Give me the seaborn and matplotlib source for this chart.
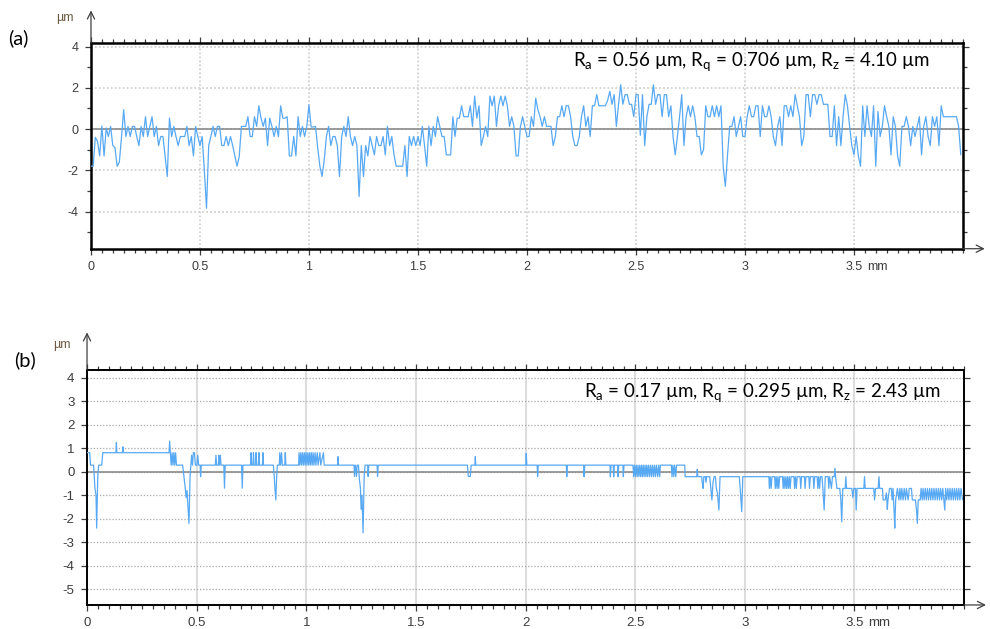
import matplotlib

matplotlib.use("Agg")
import matplotlib.pyplot as plt
import numpy as np
import pandas as pd
import seaborn as sns
from matplotlib.ticker import MultipleLocator

# ---- panel (a): height profile sampled every 0.01 mm, in um ----
profile_a_step = 0.01
profile_a = [
    -1.8, -1.8, -0.4, -0.6, -1.3, 0.15, -1.3, 0.05, -0.36, 0.13,
    -0.8, -0.9, -1.8, -1.6, -0.4, 0.94, -0.36, 0.13, -0.36, 0.13,
    0.13, -0.36, -0.8, 0.13, -0.36, 0.6, -0.36, 0.13, 0.6, -0.36,
    0.13, -0.8, -0.36, -0.36, -1.3, -2.3, 0.53, -0.36, 0.13, -0.36,
    -0.8, -0.36, -0.36, -0.36, 0.13, -0.8, -0.36, -1.3, 0.13, -0.36,
    -0.8, -0.36, -2.0, -3.84, -0.8, -0.36, 0.13, -0.36, 0.13, 0.13,
    -0.8, -0.8, -0.36, -0.8, -0.36, -0.8, -1.3, -1.8, -1.33, 0.13,
    0.13, 0.13, 0.6, -0.36, -0.36, 0.6, 0.13, 1.13, 0.53, 0.13,
    0.53, -0.8, 0.53, 0.13, -0.36, 0.13, -0.36, 1.13, 0.53, 0.53,
    0.6, -1.3, -1.3, -0.36, -1.3, 0.6, -0.36, 0.13, -0.36, 0.13,
    1.18, 0.1, 0.1, 0.13, -0.9, -1.8, -2.3, -1.5, -0.36, 0.13,
    -0.8, -0.36, -0.36, -0.8, -2.3, -0.36, 0.13, -0.36, 0.6, -0.36,
    -0.8, -0.36, -0.8, -3.27, -0.8, -2.3, -0.8, -1.3, -0.36, -0.8,
    -1.25, -0.36, -0.8, -0.8, -0.36, -1.25, 0.13, -0.8, -0.36, -1.25,
    -1.8, -1.8, -1.8, -1.8, -0.8, -2.3, -0.36, -0.8, -0.36, -0.8,
    -0.36, -0.8, 0.13, -0.8, -1.8, 0.13, -0.8, 0.13, -0.36, 0.6,
    0.13, -0.36, -0.36, -1.25, -1.25, -1.25, 0.6, -0.36, 0.53, 0.53,
    1.13, 0.6, 0.6, 0.6, 1.13, 0.13, 1.6, 0.53, 1.13, -0.8,
    -0.36, 0.13, -0.36, 1.6, 1.13, 1.6, 0.13, 1.13, 1.6, 1.13,
    1.6, 1.13, 0.13, 0.6, 0.13, -1.3, -1.3, 0.13, 0.6, 0.13,
    -0.36, -0.36, 0.6, 0.13, 1.5, 0.94, 0.6, 0.13, 0.6, 0.13,
    0.13, 0.13, -0.8, -0.36, 0.6, 0.6, 1.13, 0.6, 1.13, 1.13,
    0.6, -0.36, -0.8, -0.8, -0.36, 0.6, 1.13, 0.13, 0.6, -0.36,
    1.13, 1.13, 1.67, 1.13, 1.13, 1.13, 1.13, 1.4, 1.83, 1.2,
    1.67, 0.13, 1.2, 2.15, 1.2, 1.67, 1.67, 1.2, 1.2, 0.6,
    1.67, 1.67, -0.3, 1.67, -0.8, 0.6, 1.2, 1.2, 2.15, 1.2,
    1.67, 1.67, 0.6, 1.67, 1.67, 0.6, 1.13, -0.36, -1.25, -0.36,
    0.6, 1.67, -0.8, 0.6, 1.13, 0.6, 1.13, 0.6, -0.36, -0.36,
    -1.25, -1.0, 1.13, 0.6, 0.6, 1.13, 0.6, 1.13, 0.6, 1.13,
    -1.8, -2.78, -1.25, 0.13, 0.13, 0.6, -0.36, 0.13, 0.6, -0.36,
    -0.36, 0.6, 1.13, 0.6, 0.6, 1.13, 1.13, -0.36, 1.13, 0.6,
    0.6, 1.13, 0.6, -0.36, -0.8, 0.13, 0.6, -0.8, 1.13, 1.13,
    0.6, 1.13, 0.6, 1.67, 1.13, 0.6, -0.8, -0.36, 1.67, 1.67,
    0.6, 1.67, 1.67, 1.2, 1.67, 1.67, 1.2, 1.2, 1.2, -0.36,
    -0.36, 1.13, -0.8, 0.6, -0.8, 0.6, 1.67, 1.13, 0.13, -0.8,
    -1.25, -0.36, -1.3, -1.8, 1.13, -0.36, 1.13, 0.13, -0.36, 1.13,
    -1.8, 0.85, -0.36, 0.13, 1.13, 0.6, 0.13, -1.25, 0.6, 0.13,
    -1.3, -1.8, 0.13, 0.13, 0.6, 0.13, -0.8, 0.13, -0.36, 0.13,
    0.6, -1.25, 0.13, 0.6, -0.36, -0.8, 0.6, 0.13, 0.6, -0.8,
    1.13, 0.6, 0.6, 0.6, 0.6, 0.6, 0.6, 0.6, 0.13, -1.25,
]

# ---- panel (b): profile vertices (mm, um) ----
profile_b_x = [
    0.000, 0.012, 0.016, 0.030, 0.036, 0.041, 0.044, 0.049, 0.053, 0.067,
    0.072, 0.132, 0.134, 0.136, 0.162, 0.164, 0.166, 0.374, 0.377, 0.380,
    0.384, 0.388, 0.392, 0.396, 0.400, 0.404, 0.408, 0.436, 0.442, 0.448,
    0.452, 0.456, 0.465, 0.470, 0.474, 0.477, 0.481, 0.485, 0.490, 0.494,
    0.501, 0.505, 0.509, 0.516, 0.518, 0.521, 0.585, 0.588, 0.591, 0.599,
    0.601, 0.604, 0.608, 0.611, 0.624, 0.627, 0.630, 0.705, 0.708, 0.711,
    0.746, 0.748, 0.751, 0.757, 0.759, 0.762, 0.769, 0.771, 0.774, 0.782,
    0.784, 0.787, 0.800, 0.802, 0.805, 0.850, 0.854, 0.857, 0.861, 0.865,
    0.868, 0.877, 0.879, 0.883, 0.887, 0.891, 0.902, 0.904, 0.907, 0.965,
    0.967, 0.971, 0.975, 0.979, 0.983, 0.987, 0.991, 0.995, 0.999, 1.003,
    1.007, 1.011, 1.015, 1.019, 1.023, 1.027, 1.031, 1.035, 1.040, 1.044,
    1.050, 1.054, 1.062, 1.066, 1.078, 1.082, 1.143, 1.145, 1.147, 1.218,
    1.220, 1.224, 1.229, 1.232, 1.238, 1.242, 1.247, 1.250, 1.254, 1.259,
    1.264, 1.268, 1.280, 1.282, 1.285, 1.323, 1.325, 1.328, 1.735, 1.739,
    1.748, 1.752, 1.769, 1.771, 1.773, 2.001, 2.003, 2.006, 2.053, 2.055,
    2.058, 2.186, 2.188, 2.191, 2.265, 2.267, 2.270, 2.385, 2.387, 2.390,
    2.400, 2.402, 2.405, 2.420, 2.422, 2.425, 2.444, 2.446, 2.449, 2.490,
    2.493, 2.497, 2.501, 2.505, 2.509, 2.513, 2.517, 2.521, 2.525, 2.529,
    2.533, 2.537, 2.541, 2.545, 2.549, 2.553, 2.557, 2.561, 2.566, 2.570,
    2.575, 2.579, 2.584, 2.588, 2.593, 2.597, 2.603, 2.607, 2.612, 2.615,
    2.665, 2.668, 2.672, 2.676, 2.680, 2.685, 2.689, 2.726, 2.728, 2.781,
    2.783, 2.786, 2.803, 2.806, 2.810, 2.813, 2.820, 2.823, 2.826, 2.840,
    2.845, 2.850, 2.855, 2.860, 2.866, 2.870, 2.875, 2.882, 2.887, 2.975,
    2.979, 2.986, 2.991, 3.110, 3.112, 3.116, 3.120, 3.124, 3.136, 3.139,
    3.143, 3.147, 3.151, 3.155, 3.159, 3.172, 3.175, 3.179, 3.183, 3.187,
    3.191, 3.195, 3.199, 3.203, 3.207, 3.211, 3.224, 3.227, 3.231, 3.235,
    3.239, 3.252, 3.255, 3.259, 3.272, 3.275, 3.279, 3.292, 3.295, 3.299,
    3.312, 3.315, 3.319, 3.330, 3.333, 3.337, 3.341, 3.345, 3.352, 3.356,
    3.362, 3.367, 3.380, 3.383, 3.387, 3.395, 3.400, 3.408, 3.411, 3.414,
    3.420, 3.433, 3.438, 3.442, 3.447, 3.458, 3.461, 3.464, 3.488, 3.493,
    3.497, 3.505, 3.508, 3.512, 3.543, 3.546, 3.549, 3.588, 3.592, 3.596,
    3.608, 3.612, 3.615, 3.628, 3.631, 3.640, 3.646, 3.650, 3.653, 3.660,
    3.668, 3.672, 3.676, 3.681, 3.684, 3.688, 3.696, 3.703, 3.707, 3.712,
    3.716, 3.722, 3.727, 3.733, 3.737, 3.745, 3.750, 3.760, 3.764, 3.772,
    3.778, 3.783, 3.787, 3.791, 3.800, 3.804, 3.809, 3.813, 3.818, 3.823,
    3.828, 3.833, 3.838, 3.843, 3.848, 3.853, 3.858, 3.863, 3.868, 3.873,
    3.878, 3.883, 3.888, 3.893, 3.898, 3.903, 3.908, 3.912, 3.916, 3.921,
    3.926, 3.931, 3.936, 3.941, 3.946, 3.951, 3.956, 3.961, 3.966, 3.971,
    3.976, 3.981, 3.986, 3.993,
]
profile_b_z = [
    0.81, 0.81, 0.28, 0.28, -0.70, -1.00, -2.40, -0.20, 0.28, 0.28,
    0.81, 0.81, 1.25, 0.81, 0.81, 1.06, 0.81, 0.81, 1.30, 0.81,
    0.28, 0.81, 0.28, 0.81, 0.28, 0.81, 0.28, 0.28, -0.20, -0.70,
    -1.10, -0.80, -2.20, -0.20, 0.28, 0.70, 0.28, 0.81, 0.81, 0.28,
    0.28, 0.70, 0.28, 0.28, -0.21, 0.28, 0.28, 0.70, 0.28, 0.28,
    0.70, 0.28, 0.70, 0.28, 0.28, -0.70, 0.28, 0.28, -0.70, 0.28,
    0.28, 0.81, 0.28, 0.28, 0.81, 0.28, 0.28, 0.81, 0.28, 0.28,
    0.81, 0.28, 0.28, 0.81, 0.28, 0.28, -0.20, -0.70, -1.20, -0.20,
    0.28, 0.28, 0.81, 0.28, 0.81, 0.28, 0.28, 0.81, 0.28, 0.28,
    0.81, 0.28, 0.81, 0.28, 0.81, 0.28, 0.81, 0.28, 0.81, 0.28,
    0.81, 0.28, 0.81, 0.28, 0.81, 0.28, 0.81, 0.28, 0.81, 0.28,
    0.81, 0.28, 0.81, 0.28, 0.81, 0.28, 0.28, 0.64, 0.28, 0.28,
    -0.20, 0.28, -0.20, 0.28, 0.28, -0.30, -0.70, -1.60, -1.00, -2.60,
    -0.20, 0.28, 0.28, -0.20, 0.28, 0.28, -0.20, 0.28, 0.28, -0.20,
    -0.20, 0.28, 0.28, 0.64, 0.28, 0.28, 0.78, 0.28, 0.28, -0.21,
    0.28, 0.28, -0.21, 0.28, 0.28, -0.21, 0.28, 0.28, -0.21, 0.28,
    0.28, -0.21, 0.28, 0.28, -0.21, 0.28, 0.28, -0.21, 0.28, 0.28,
    -0.21, 0.28, -0.21, 0.28, -0.21, 0.28, -0.21, 0.28, -0.21, 0.28,
    -0.21, 0.28, -0.21, 0.28, -0.21, 0.28, -0.21, 0.28, -0.21, 0.28,
    -0.21, 0.28, -0.21, 0.28, -0.21, 0.28, -0.21, 0.28, -0.21, 0.28,
    0.28, -0.21, 0.28, -0.21, 0.28, -0.21, 0.28, 0.28, -0.21, -0.21,
    0.10, -0.21, -0.21, -0.45, -0.71, -0.21, -0.21, -0.45, -0.21, -0.21,
    -0.71, -1.20, -0.45, -0.21, -0.21, -0.71, -0.90, -1.63, -0.21, -0.21,
    -0.71, -1.70, -0.21, -0.21, -0.71, -0.21, -0.71, -0.21, -0.21, -0.71,
    -0.21, -0.71, -0.21, -0.71, -0.21, -0.21, -0.71, -0.21, -0.71, -0.21,
    -0.71, -0.21, -0.71, -0.21, -0.71, -0.21, -0.21, -0.71, -0.21, -0.71,
    -0.21, -0.21, -0.71, -0.21, -0.21, -0.71, -0.21, -0.21, -0.71, -0.21,
    -0.21, -0.71, -0.21, -0.21, -0.71, -0.21, -0.71, -0.21, -0.21, -0.71,
    -1.63, -0.21, -0.21, -0.71, -0.21, -0.71, -0.21, -0.21, 0.14, -0.21,
    -0.71, -0.71, -1.20, -2.13, -0.71, -0.71, -0.21, -0.71, -0.71, -1.10,
    -0.71, -0.71, -1.63, -0.71, -0.71, -0.21, -0.71, -0.71, -1.20, -0.71,
    -0.71, -0.21, -0.71, -0.71, -1.20, -1.20, -0.90, -1.60, -1.20, -0.71,
    -0.71, -1.20, -0.71, -1.70, -2.40, -1.20, -0.71, -1.20, -0.71, -1.20,
    -0.71, -1.20, -0.71, -1.20, -0.71, -1.20, -0.71, -0.71, -1.20, -1.20,
    -1.20, -1.60, -2.20, -1.20, -1.20, -0.71, -1.20, -0.71, -1.20, -0.71,
    -1.20, -0.71, -1.20, -0.71, -1.20, -0.71, -1.20, -0.71, -1.20, -0.71,
    -1.20, -0.71, -1.20, -0.71, -1.20, -0.71, -1.20, -1.63, -0.71, -1.20,
    -0.71, -1.20, -0.71, -1.20, -0.71, -1.20, -0.71, -1.20, -0.71, -1.20,
    -0.71, -1.20, -0.71, -1.20,
]

roughness_a = r"R$_\mathregular{a}$ = 0.56 µm, R$_\mathregular{q}$ = 0.706 µm, R$_\mathregular{z}$ = 4.10 µm"
roughness_b = r"R$_\mathregular{a}$ = 0.17 µm, R$_\mathregular{q}$ = 0.295 µm, R$_\mathregular{z}$ = 2.43 µm"
x_tick_values = [0, 0.5, 1, 1.5, 2, 2.5, 3, 3.5]
x_tick_labels = ["0", "0.5", "1", "1.5", "2", "2.5", "3", "3.5"]

LINE_COLOR = "#58a9f3"
TICK_COLOR = "#3c3c3c"

sns.set_theme(style="white")
plt.rcParams["font.family"] = ["Liberation Sans", "DejaVu Sans"]
plt.rcParams["axes.unicode_minus"] = False

fig = plt.figure(figsize=(9.9, 6.29), dpi=100)
ax_a = fig.add_axes([0.0919, 0.6046, 0.8808, 0.3266])
ax_b = fig.add_axes([0.0879, 0.0382, 0.8859, 0.3736])


def _style_panel(ax, ylim, y_major, y_minor, spine_width, label_size):
    ax.set_xlim(0, 4.0)
    ax.set_ylim(*ylim)
    ax.set_xticks(x_tick_values)
    ax.set_xticklabels(x_tick_labels)
    ax.xaxis.set_minor_locator(MultipleLocator(0.05))
    ax.yaxis.set_major_locator(MultipleLocator(y_major))
    if y_minor:
        ax.yaxis.set_minor_locator(MultipleLocator(y_minor))
    ax.tick_params(which="both", direction="out", bottom=True, left=True,
                   top=True, right=True, labeltop=False, labelright=False,
                   color=TICK_COLOR, labelcolor=TICK_COLOR,
                   labelsize=label_size, width=0.9)
    ax.tick_params(which="major", length=4)
    ax.tick_params(which="minor", length=3)
    ax.tick_params(axis="y", pad=5)
    ax.tick_params(axis="x", pad=5)
    for spine in ax.spines.values():
        spine.set_visible(True)
        spine.set_color("black")
        spine.set_linewidth(spine_width)
    ax.set_xlabel("")
    ax.set_ylabel("")
    ax.axhline(0, color="#8c8c8c", linewidth=1.2, zorder=1.5)
    # unit on the x axis, right after the 3.5 label
    ax.annotate("mm", xy=(3.562, 0), xycoords=ax.get_xaxis_transform(),
                xytext=(0, -9), textcoords="offset points", ha="left", va="top",
                fontsize=label_size, color=TICK_COLOR)
    # axis arrows
    arrow = dict(arrowstyle="->", color="#404040", linewidth=0.9, mutation_scale=13,
                 shrinkA=0, shrinkB=0)
    ax.annotate("", xy=(0, 1.16), xytext=(0, 1.0), xycoords="axes fraction",
                arrowprops=arrow, annotation_clip=False)
    ax.annotate("", xy=(1.025, 0), xytext=(1.0, 0), xycoords="axes fraction",
                arrowprops=arrow, annotation_clip=False)


frame_a = pd.DataFrame({"x_mm": np.arange(len(profile_a)) * profile_a_step, "z_um": profile_a})
frame_b = pd.DataFrame({"x_mm": profile_b_x, "z_um": profile_b_z})

sns.lineplot(data=frame_a, x="x_mm", y="z_um", ax=ax_a, color=LINE_COLOR,
             linewidth=0.9, estimator=None, sort=False, zorder=3)
_style_panel(ax_a, (-5.8, 4.16), 2, 1, 1.8, 9)
ax_a.grid(True, which="major", axis="both", color="#d2d2d2",
          linestyle=(0, (1, 1.2)), linewidth=1.3)
ax_a.text(0.962, 0.905, roughness_a, transform=ax_a.transAxes, ha="right",
          va="center", fontsize=13.5, family=["Lato", "DejaVu Sans"], color="black")

sns.lineplot(data=frame_b, x="x_mm", y="z_um", ax=ax_b, color=LINE_COLOR,
             linewidth=0.9, estimator=None, sort=False, zorder=3)
_style_panel(ax_b, (-5.67, 4.33), 1, None, 1.4, 9.5)
ax_b.grid(True, which="major", axis="y", color="#a8a8a8",
          linestyle=(0, (1, 1.5)), linewidth=0.9)
ax_b.grid(True, which="major", axis="x", color="#dddddd",
          linestyle="-", linewidth=1.5)
ax_b.text(0.973, 0.902, roughness_b, transform=ax_b.transAxes, ha="right",
          va="center", fontsize=13.5, family=["Lato", "DejaVu Sans"], color="black")

for ax in (ax_a, ax_b):
    ax.set_axisbelow(True)

fig.text(0.0657, 0.971, "µm", ha="center", va="center", fontsize=9, color="#6e5a44")
fig.text(0.0626, 0.4515, "µm", ha="center", va="center", fontsize=9, color="#6e5a44")
fig.text(0.008, 0.94, "(a)", ha="left", va="center", fontsize=14.5,
         family=["Lato", "DejaVu Sans"], color="black")
fig.text(0.014, 0.428, "(b)", ha="left", va="center", fontsize=14.5,
         family=["Lato", "DejaVu Sans"], color="black")

fig.savefig("out.png", dpi=100)
plt.close(fig)
